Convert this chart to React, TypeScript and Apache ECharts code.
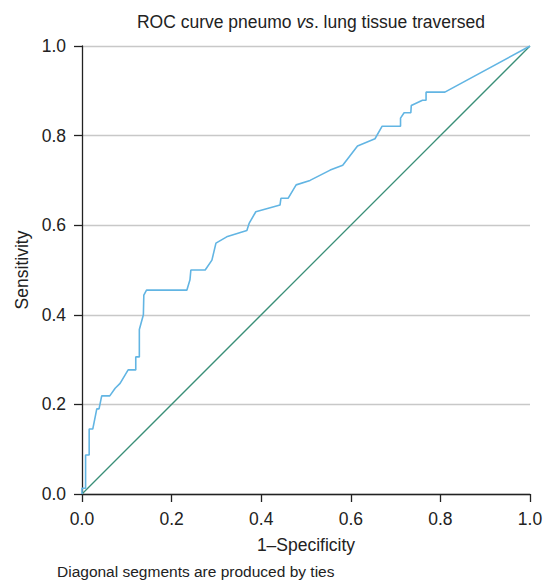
import React, { useEffect, useRef } from "react";
import * as echarts from "echarts";

const titleBefore = "ROC curve pneumo ";
const titleItalic = "vs";
const titleAfter = ". lung tissue traversed";
const xAxisName = "1–Specificity";
const yAxisName = "Sensitivity";
const footnote = "Diagonal segments are produced by ties";

// ROC curve points: 1-specificity (x) and sensitivity (y)
const rocX = [0, 0, 0.008, 0.008, 0.016, 0.016, 0.024, 0.033, 0.038, 0.044, 0.062, 0.074, 0.085, 0.103, 0.12, 0.12, 0.128, 0.128, 0.137, 0.138, 0.144, 0.234, 0.241, 0.243, 0.275, 0.29, 0.299, 0.323, 0.368, 0.373, 0.388, 0.442, 0.444, 0.46, 0.478, 0.509, 0.554, 0.582, 0.615, 0.654, 0.67, 0.711, 0.711, 0.719, 0.734, 0.735, 0.76, 0.768, 0.768, 0.81, 1];
const rocY = [0, 0.013, 0.013, 0.087, 0.087, 0.145, 0.145, 0.19, 0.19, 0.219, 0.219, 0.236, 0.247, 0.277, 0.277, 0.306, 0.306, 0.367, 0.4, 0.444, 0.455, 0.455, 0.478, 0.5, 0.5, 0.522, 0.56, 0.574, 0.588, 0.604, 0.63, 0.645, 0.66, 0.66, 0.69, 0.7, 0.723, 0.734, 0.777, 0.793, 0.821, 0.821, 0.839, 0.851, 0.851, 0.867, 0.879, 0.879, 0.897, 0.897, 1];
const refX = [0, 1];
const refY = [0, 1];
const tickValues = [0, 0.2, 0.4, 0.6, 0.8, 1.0];

export default function App() {
  const ref = useRef<HTMLDivElement>(null);
  useEffect(() => {
    if (!ref.current) return;
    const chart = echarts.init(ref.current, null, { renderer: "svg" });
    const font = "'Liberation Sans', Arial, Helvetica, sans-serif";
    const ink = "#222";
    chart.setOption({
      animation: false,
      backgroundColor: "#ffffff",
      textStyle: { fontFamily: font },
      title: {
        text: `${titleBefore}{i|${titleItalic}}${titleAfter}`,
        left: 306,
        top: 8,
        textAlign: "center",
        textStyle: {
          fontSize: 17.5,
          fontWeight: "normal",
          color: ink,
          fontFamily: font,
          rich: { i: { fontStyle: "italic", fontSize: 17.5, color: ink, fontFamily: font } },
        },
      },
      graphic: [
        {
          type: "text",
          left: 57,
          top: 563,
          style: { text: footnote, fill: ink, font: `15.5px ${font}` },
        },
      ],
      grid: { left: 82, right: 18, top: 46, bottom: 89, containLabel: false },
      xAxis: {
        type: "value",
        min: 0,
        max: 1,
        interval: 0.2,
        name: xAxisName,
        nameLocation: "middle",
        nameGap: 42,
        nameTextStyle: { fontSize: 17.5, color: ink, fontFamily: font },
        axisLine: { show: true, lineStyle: { color: ink, width: 1.3 } },
        axisTick: { show: true, length: 8, lineStyle: { color: ink, width: 1.3 } },
        axisLabel: {
          fontSize: 17.5,
          color: ink,
          margin: 16,
          formatter: (v: number) => (tickValues.includes(v) ? v.toFixed(1) : ""),
          fontFamily: font,
        },
        splitLine: { show: false },
      },
      yAxis: {
        type: "value",
        min: 0,
        max: 1,
        interval: 0.2,
        name: yAxisName,
        nameLocation: "middle",
        nameGap: 50,
        nameRotate: 90,
        nameTextStyle: { fontSize: 17.5, color: ink, fontFamily: font },
        axisLine: { show: true, lineStyle: { color: ink, width: 1.3 } },
        axisTick: { show: true, length: 8, lineStyle: { color: ink, width: 1.3 } },
        axisLabel: {
          fontSize: 17.5,
          color: ink,
          margin: 16,
          formatter: (v: number) => v.toFixed(1),
          fontFamily: font,
        },
        splitLine: { show: true, lineStyle: { color: "#c8c8c8", width: 1.3 } },
      },
      series: [
        {
          type: "line",
          data: refX.map((x, i) => [x, refY[i]]),
          showSymbol: false,
          symbol: "none",
          lineStyle: { color: "#3a8f78", width: 1.3 },
          z: 2,
        },
        {
          type: "line",
          data: rocX.map((x, i) => [x, rocY[i]]),
          showSymbol: false,
          symbol: "none",
          lineStyle: { color: "#62b5e3", width: 1.6 },
          z: 3,
        },
      ],
    });
    return () => chart.dispose();
  }, []);
  return (
    <div
      ref={ref}
      style={{ position: "fixed", left: 0, top: 0, width: 548, height: 583 }}
    />
  );
}
